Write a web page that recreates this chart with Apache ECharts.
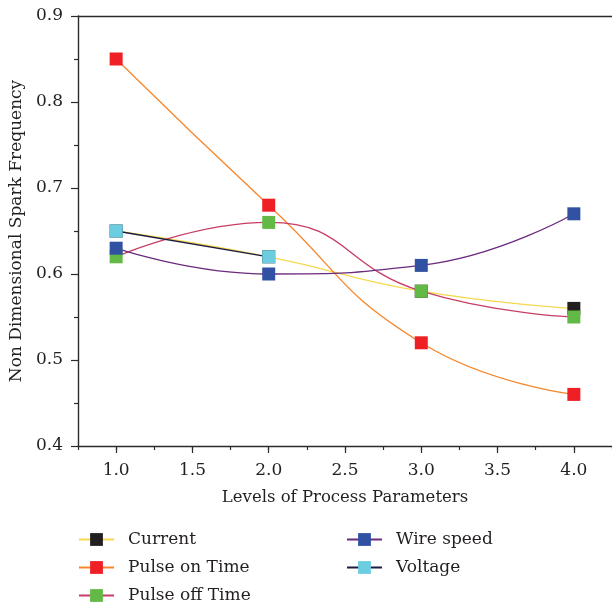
<!DOCTYPE html>
<html>
<head>
<meta charset="utf-8">
<script src="https://cdn.jsdelivr.net/npm/echarts@6/dist/echarts.min.js"></script>
<style>
  html, body { margin: 0; padding: 0; background: #fff; }
  #chart { width: 612px; height: 608px; }
</style>
</head>
<body>
<div id="chart"></div>
<script>
// Levels on the x axis and the measured frequency for each parameter
const levels = [1.0, 2.0, 3.0, 4.0];
const current = [0.65, 0.62, 0.58, 0.56];
const pulseOn = [0.85, 0.68, 0.52, 0.46];
const pulseOff = [0.62, 0.66, 0.58, 0.55];
const wireSpeed = [0.63, 0.60, 0.61, 0.67];
const voltage = [0.65, 0.62];
const xTicks = [1.0, 1.5, 2.0, 2.5, 3.0, 3.5, 4.0];

const FONT = 'DejaVu Serif';
const AXIS = '#2b2b2b';

function pairs(vals) { return vals.map((v, i) => [levels[i], v]); }

function lineSeries(name, vals, lineColor, markColor, smooth) {
  return {
    name: name,
    type: 'line',
    data: pairs(vals),
    smooth: smooth,
    symbol: 'rect',
    symbolSize: 13,
    showSymbol: true,
    lineStyle: { color: lineColor, width: 1.3 },
    itemStyle: { color: markColor },
    emphasis: { disabled: true },
    animation: false
  };
}

const legendText = { fontFamily: FONT, fontSize: 17, color: '#231f20', padding: [0, 0, 0, 9], lineHeight: 16 };

const chart = echarts.init(document.getElementById('chart'), null, { renderer: 'canvas' });
chart.setOption({
  animation: false,
  grid: { left: 78, right: -3, top: 16, bottom: 162, containLabel: false },
  legend: [
    {
      data: ['Current', 'Pulse on Time', 'Pulse off Time'],
      orient: 'vertical', left: 78, top: 531, padding: 0,
      itemWidth: 35, itemHeight: 16, itemGap: 11,
      textStyle: legendText
    },
    {
      data: ['Wire speed', 'Voltage'],
      orient: 'vertical', left: 346, top: 531, padding: 0,
      itemWidth: 35, itemHeight: 16, itemGap: 11,
      textStyle: legendText
    }
  ],
  xAxis: [
    {
      type: 'value', min: 0.75, max: 4.25,
      name: 'Levels of Process Parameters',
      nameLocation: 'middle', nameGap: 43,
      nameTextStyle: { fontFamily: FONT, fontSize: 16.5, color: '#231f20' },
      axisLine: { show: true, lineStyle: { color: AXIS, width: 1.4 } },
      axisTick: { show: true, length: 7, customValues: xTicks, lineStyle: { color: AXIS, width: 1.2 } },
      axisLabel: { customValues: xTicks, margin: 16, fontFamily: FONT, fontSize: 17, color: '#231f20',
                   formatter: v => v.toFixed(1) },
      splitLine: { show: false }
    },
    {
      // short ticks between labelled levels
      type: 'value', min: 0.75, max: 4.25, interval: 0.25, position: 'bottom',
      axisLine: { show: false },
      axisTick: { show: true, length: 4, lineStyle: { color: AXIS, width: 1.2 } },
      axisLabel: { show: false },
      splitLine: { show: false }
    },
    {
      // top frame line
      type: 'value', min: 0.75, max: 4.25, position: 'top',
      axisLine: { show: true, lineStyle: { color: AXIS, width: 1.4 } },
      axisTick: { show: false }, axisLabel: { show: false }, splitLine: { show: false }
    }
  ],
  yAxis: {
    type: 'value', min: 0.4, max: 0.9, interval: 0.1,
    name: 'Non Dimensional Spark Frequency',
    nameLocation: 'middle', nameGap: 51, nameRotate: 90,
    nameTextStyle: { fontFamily: FONT, fontSize: 17, color: '#231f20' },
    axisLine: { show: true, lineStyle: { color: AXIS, width: 1.4 } },
    axisTick: { show: true, length: 7, lineStyle: { color: AXIS, width: 1.2 } },
    minorTick: { show: true, splitNumber: 2, length: 4, lineStyle: { color: AXIS, width: 1.2 } },
    axisLabel: { margin: 15, fontFamily: FONT, fontSize: 17, color: '#231f20',
                 formatter: v => v.toFixed(1) },
    splitLine: { show: false }
  },
  series: [
    lineSeries('Current', current, '#f5d94e', '#231f20', 0.5),
    lineSeries('Pulse on Time', pulseOn, '#f7862a', '#ee1f25', 0.5),
    lineSeries('Pulse off Time', pulseOff, '#c83d64', '#62b946', 0.5),
    lineSeries('Wire speed', wireSpeed, '#6b2a7d', '#3152a2', 0.5),
    lineSeries('Voltage', voltage, '#1c1c40', '#6dcde0', false)
  ]
});
</script>
</body>
</html>
